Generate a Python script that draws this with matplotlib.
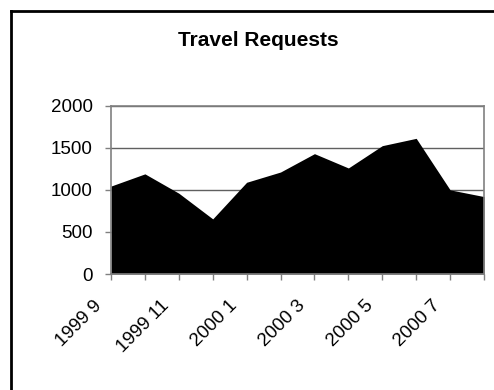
import matplotlib
matplotlib.use("Agg")
import matplotlib.pyplot as plt
from matplotlib.lines import Line2D
from matplotlib.transforms import ScaledTranslation
import numpy as np

plt.rcParams['font.family'] = ['Liberation Sans', 'DejaVu Sans']

# monthly travel requests, Sep 1999 - Aug 2000
months = ["1999 9", "1999 10", "1999 11", "1999 12", "2000 1", "2000 2",
          "2000 3", "2000 4", "2000 5", "2000 6", "2000 7", "2000 8"]
requests = [1045, 1190, 960, 655, 1090, 1212, 1430, 1260, 1525, 1612, 1000, 920]
yticks = [0, 500, 1000, 1500, 2000]

fig = plt.figure(figsize=(4.94, 3.9), dpi=100)
ax = fig.add_axes([0.2247, 0.2974, 0.9798 - 0.2247, 0.729 - 0.2974])

x = np.arange(len(months))
ax.fill_between(x, requests, 0, color="black", linewidth=0, zorder=2)

ax.set_xlim(0, len(months) - 1)
ax.set_ylim(0, 2000)
ax.set_yticks(yticks)
ax.set_yticklabels([str(v) for v in yticks], fontsize=13.5)
ax.set_xticks(x)
ax.set_xticklabels([m if i % 2 == 0 else "" for i, m in enumerate(months)],
                   fontsize=13.5, rotation=45, ha="right", va="top",
                   rotation_mode="anchor")
ax.tick_params(axis="both", direction="out", length=4, width=1, color="#808080")
ax.tick_params(axis="x", pad=12.5)
ax.tick_params(axis="y", pad=9)

# shift rotated month labels left of their ticks
shift = ScaledTranslation(-18 / 100, 0, fig.dpi_scale_trans)
for lbl in ax.get_xticklabels():
    lbl.set_transform(lbl.get_transform() + shift)

ax.grid(axis="y", color="#606060", linewidth=1, zorder=1)
ax.set_axisbelow(True)
for side in ["top", "right", "left", "bottom"]:
    ax.spines[side].set_color("#808080")
    ax.spines[side].set_linewidth(1.2)

fig.text(0.522, 0.897, "Travel Requests", ha="center", va="center",
         fontsize=15, fontweight="bold")

# outer chart border (left and top edges)
fig.add_artist(Line2D([10.5 / 494, 10.5 / 494], [0, 1 - 10.5 / 390],
                      transform=fig.transFigure, color="black", linewidth=2))
fig.add_artist(Line2D([10.5 / 494, 1], [1 - 10.5 / 390, 1 - 10.5 / 390],
                      transform=fig.transFigure, color="black", linewidth=2))

fig.savefig("out.png", dpi=100)
